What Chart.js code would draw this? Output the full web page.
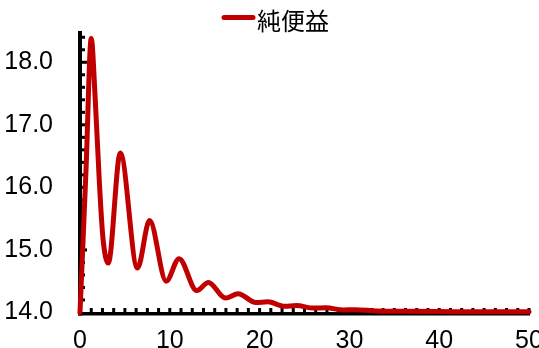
<!DOCTYPE html>
<html>
<head>
<meta charset="utf-8">
<script src="https://cdn.jsdelivr.net/npm/chart.js@4/dist/chart.umd.min.js"></script>
<style>
  html, body { margin: 0; padding: 0; background: #ffffff; }
  #wrap { width: 539px; height: 348px; }
</style>
</head>
<body>
<div id="wrap"><canvas id="chart" width="539" height="348"></canvas></div>
<script>
// Series name and values (x = period, y = net benefit)
const seriesName = '純便益';
const periods = [0, 0.67, 1.25, 1.7, 2.15, 2.55, 3.15, 4.49, 6.4, 7.75, 9.6, 11.03, 13.0, 14.3, 16.2,
                 17.6, 19.6, 20.9, 22.8, 24.1, 26.0, 27.4, 29.3, 30.6, 33, 36, 40, 45, 50];
const netBenefit = [14.0, 16.28, 18.38, 17.4, 16.1, 15.2, 14.79, 16.55, 14.71, 15.47, 14.50, 14.86, 14.35, 14.48, 14.23,
                    14.30, 14.16, 14.17, 14.10, 14.11, 14.07, 14.075, 14.04, 14.045, 14.025, 14.02, 14.015, 14.01, 14.01];
const xTickValues = [0, 10, 20, 30, 40, 50];
const yTickValues = [14.0, 15.0, 16.0, 17.0, 18.0];

const lineColor = '#C00000';
const numberFont = { family: '"Liberation Sans Narrow", "Liberation Sans", Arial, sans-serif', size: 25 };

// Thick black axes with short inward tick marks
const axisFrame = {
  id: 'axisFrame',
  beforeDatasetsDraw(chart) {
    const { ctx } = chart;
    const xs = chart.scales.x, ys = chart.scales.y;
    const x0 = xs.getPixelForValue(xs.min), x1 = xs.getPixelForValue(xs.max);
    const yb = ys.getPixelForValue(ys.min), yt = ys.getPixelForValue(ys.max);
    ctx.save();
    ctx.fillStyle = '#000000';
    ctx.fillRect(x0 - 2, yt, 4, yb - yt + 3);
    ctx.fillRect(x0 - 2, yb - 0.5, x1 - x0 + 3, 3.5);
    // y: minor every 0.2, longer at whole numbers
    for (let k = 1; k * 0.2 <= ys.max - ys.min + 1e-9; k++) {
      const py = ys.getPixelForValue(ys.min + k * 0.2);
      const len = (k % 5 === 0) ? 5 : 3;
      ctx.fillRect(x0 + 2, py - 1.5, len, 3);
    }
    // x: every 1.25
    for (let k = 1; k * 1.25 <= xs.max - xs.min + 1e-9; k++) {
      const px = xs.getPixelForValue(xs.min + k * 1.25);
      ctx.fillRect(px - 1.5, yb - 4.5, 3, 4);
    }
    ctx.restore();
  }
};

// Legend drawn as a short line sample followed by the series name
const lineLegend = {
  id: 'lineLegend',
  afterDraw(chart) {
    const { ctx } = chart;
    const ds = chart.data.datasets[0];
    ctx.save();
    ctx.strokeStyle = ds.borderColor;
    ctx.lineWidth = 5;
    ctx.lineCap = 'round';
    ctx.beginPath();
    ctx.moveTo(224, 17.5);
    ctx.lineTo(253, 17.5);
    ctx.stroke();
    ctx.fillStyle = '#000000';
    ctx.font = '24px "Noto Sans CJK JP", sans-serif';
    ctx.textBaseline = 'middle';
    ctx.textAlign = 'left';
    ctx.fillText(ds.label, 257, 21);
    ctx.restore();
  }
};

new Chart(document.getElementById('chart'), {
  type: 'line',
  data: {
    datasets: [{
      label: seriesName,
      data: periods.map((p, i) => ({ x: p, y: netBenefit[i] })),
      borderColor: lineColor,
      backgroundColor: lineColor,
      borderWidth: 5,
      borderCapStyle: 'round',
      borderJoinStyle: 'round',
      pointRadius: 0,
      cubicInterpolationMode: 'monotone',
      fill: false,
      clip: false
    }]
  },
  options: {
    responsive: false,
    animation: false,
    devicePixelRatio: 1,
    layout: { padding: { top: 31, right: 10, left: 0, bottom: 0 } },
    plugins: { legend: { display: false }, tooltip: { enabled: false } },
    scales: {
      x: {
        type: 'linear',
        min: 0,
        max: 50,
        grid: { display: false, drawTicks: false },
        border: { display: false },
        afterBuildTicks: s => { s.ticks = xTickValues.map(v => ({ value: v })); },
        ticks: { font: numberFont, color: '#000000', padding: 14, maxRotation: 0, autoSkip: false },
        afterFit: s => { s.height = 35.5; s.paddingLeft = 0; s.paddingRight = 0; }
      },
      y: {
        type: 'linear',
        min: 14,
        max: 18.5,
        grid: { display: false, drawTicks: false },
        border: { display: false },
        afterBuildTicks: s => { s.ticks = yTickValues.map(v => ({ value: v })); },
        ticks: { font: numberFont, color: '#000000', padding: 27, callback: v => Number(v).toFixed(1) },
        afterFit: s => { s.width = 80; s.paddingTop = 0; s.paddingBottom = 0; }
      }
    }
  },
  plugins: [axisFrame, lineLegend]
});
</script>
</body>
</html>
